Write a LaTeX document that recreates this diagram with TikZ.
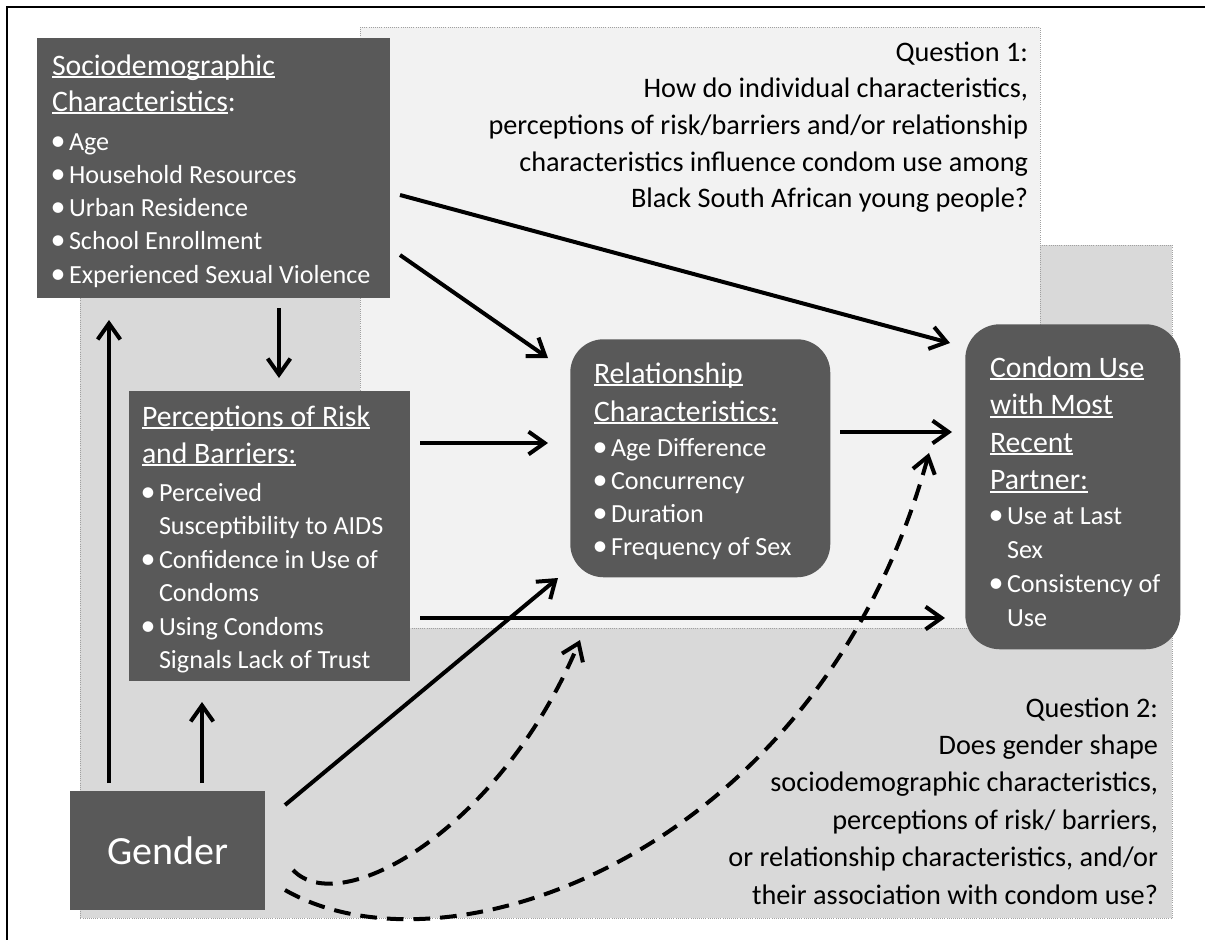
\documentclass[tikz,border=0pt]{standalone}
\usepackage{fontspec}
\setmainfont{Carlito}
\usetikzlibrary{arrows.meta}
\definecolor{boxgray}{HTML}{595959}
\definecolor{qone}{HTML}{F2F2F2}
\definecolor{qtwo}{HTML}{D9D9D9}
\definecolor{dotgray}{HTML}{A0A0A0}
\newdimen\px \px=0.75pt
\newcommand\ULn[1]{\setbox0\hbox{#1}\rlap{\rule[-0.11em]{\wd0}{0.065em}}\box0}
\newcommand\TLine[1]{\hbox{\smash{#1}}}
\newcommand\BigBul{{\fontsize{22.5}{22.5}\selectfont\textbullet}}
\newcommand\BLine[1]{\hbox{\smash{\hbox to 17\px{\kern-1.5\px\BigBul\hss}#1}}}
\newcommand\CLine[1]{\hbox{\smash{\hbox to 17\px{\hss}#1}}}
\newcommand\RLine[1]{\hbox to 0pt{\hss\smash{#1}}}
\newcommand\TitleFont{\fontsize{22.3}{27}\selectfont}
\newcommand\ItemFont{\fontsize{19.6}{24}\selectfont}
\newcommand\QFont{\fontsize{21.2}{26}\selectfont}
\begin{document}
\begin{tikzpicture}[x=0.75pt,y=-0.75pt,
  region/.style={draw=dotgray,line width=0.6pt,densely dotted,inner sep=0pt,anchor=north west},
  darkbox/.style={fill=boxgray,draw=none,inner sep=0pt,anchor=north west},
  txt/.style={inner sep=0pt,outer sep=0pt,text=white,anchor=base west},
  qtxt/.style={inner sep=0pt,outer sep=0pt,text=black,anchor=base},
  arr/.style={line width=3pt,-{Straight Barb[length=12pt,width=17pt]}},
  darr/.style={arr,dash pattern=on 12.5pt off 7.5pt}]
\useasboundingbox (0,0) rectangle (1205,939);
\fill[white] (0,0) rectangle (1205,939);
% outer frame (top and left)
\draw[line width=1.6pt] (7,950) -- (7,7) -- (1215,7);
% regions
\node[region,fill=qtwo,minimum width=1092\px,minimum height=673\px] (q2) at (80,245) {};
\node[region,fill=qone,minimum width=680\px,minimum height=601\px] (q1) at (360,27) {};
% boxes
\node[darkbox,minimum width=353\px,minimum height=260\px] (socio) at (37,38) {};
\node[darkbox,minimum width=281\px,minimum height=290\px] (percep) at (129,391) {};
\node[darkbox,rounded corners=25pt,minimum width=260\px,minimum height=238\px] (rel) at (570,339) {};
\node[darkbox,rounded corners=26pt,minimum width=215\px,minimum height=325\px] (condom) at (965,324) {};
\node[darkbox,minimum width=195\px,minimum height=119\px,text=white,font=\fontsize{30}{36}\selectfont] (gender) at (70,791) {Gender};
% box texts
\node[txt] (sociotxt) at (52,75) {\vtop{\offinterlineskip\TitleFont
 \TLine{\ULn{Sociodemographic}}\kern36\px
 \TLine{\ULn{Characteristics}:}\kern39\px
 \ItemFont
 \BLine{Age}\kern33.3\px
 \BLine{Household Resources}\kern33.3\px
 \BLine{Urban Residence}\kern33.3\px
 \BLine{School Enrollment}\kern33.3\px
 \BLine{Experienced Sexual Violence}}};
\node[txt] (perceptxt) at (142,426) {\vtop{\offinterlineskip\TitleFont
 \TLine{\ULn{Perceptions of Risk}}\kern37\px
 \TLine{\ULn{and Barriers:}}\kern38\px
 \ItemFont
 \BLine{Perceived}\kern33.5\px
 \CLine{Susceptibility to AIDS}\kern33.5\px
 \BLine{Confidence in Use of}\kern33.5\px
 \CLine{Condoms}\kern33.5\px
 \BLine{Using Condoms}\kern33.5\px
 \CLine{Signals Lack of Trust}}};
\node[txt] (reltxt) at (594,383) {\vtop{\offinterlineskip\TitleFont
 \TLine{\ULn{Relationship}}\kern38\px
 \TLine{\ULn{Characteristics:}}\kern35\px
 \ItemFont
 \BLine{Age Difference}\kern33\px
 \BLine{Concurrency}\kern33\px
 \BLine{Duration}\kern33\px
 \BLine{Frequency of Sex}}};
\node[txt] (condomtxt) at (990,377) {\vtop{\offinterlineskip\TitleFont
 \TLine{\ULn{Condom Use}}\kern37.5\px
 \TLine{\ULn{with Most}}\kern37.5\px
 \TLine{\ULn{Recent}}\kern37.5\px
 \TLine{\ULn{Partner:}}\kern35\px
 \ItemFont
 \BLine{Use at Last}\kern34\px
 \CLine{Sex}\kern34\px
 \BLine{Consistency of}\kern34\px
 \CLine{Use}}};
% question texts
\node[qtxt] (q1txt) at (1028,61) {\vtop{\offinterlineskip\QFont
 \RLine{Question 1:}\kern36.7\px
 \RLine{How do individual characteristics,}\kern36.7\px
 \RLine{perceptions of risk/barriers and/or relationship}\kern36.7\px
 \RLine{characteristics influence condom use among}\kern36.7\px
 \RLine{Black South African young people?}}};
\node[qtxt] (q2txt) at (1158,717) {\vtop{\offinterlineskip\QFont
 \RLine{Question 2:}\kern37.4\px
 \RLine{Does gender shape}\kern37.4\px
 \RLine{sociodemographic characteristics,}\kern37.4\px
 \RLine{perceptions of risk/ barriers,}\kern37.4\px
 \RLine{or relationship characteristics, and/or}\kern37.4\px
 \RLine{their association with condom use?}}};
% connector end points
\coordinate (sc1) at (400,195); \coordinate (cd1) at (950,343);
\coordinate (sc2) at (400,255); \coordinate (rl1) at (548,358);
\coordinate (sc3) at (279,308); \coordinate (pc1) at (279,378);
\coordinate (pc2) at (420,443); \coordinate (rl2) at (548,443);
\coordinate (pc3) at (420,618); \coordinate (cd2) at (945,618);
\coordinate (rl3) at (840,432); \coordinate (cd3) at (952,432);
\coordinate (gd1) at (109,783); \coordinate (sc4) at (109,320);
\coordinate (gd2) at (202,783); \coordinate (pc4) at (202,702);
\coordinate (gd3) at (285,805); \coordinate (rl4) at (558,578);
\coordinate (gd4) at (293,870); \coordinate (rl5) at (580,640);
\coordinate (gd5) at (285,890); \coordinate (cd4) at (929,453);
% connectors
\draw[arr] (sc1) -- (cd1);
\draw[arr] (sc2) -- (rl1);
\draw[arr] (sc3) -- (pc1);
\draw[arr] (pc2) -- (rl2);
\draw[arr] (pc3) -- (cd2);
\draw[arr] (rl3) -- (cd3);
\draw[arr] (gd1) -- (sc4);
\draw[arr] (gd2) -- (pc4);
\draw[arr] (gd3) -- (rl4);
\draw[darr] (gd4) .. controls (340,920) and (500,830) .. (rl5);
\draw[darr] (gd5) .. controls (450,985) and (820,850) .. (cd4);
\end{tikzpicture}
\end{document}
